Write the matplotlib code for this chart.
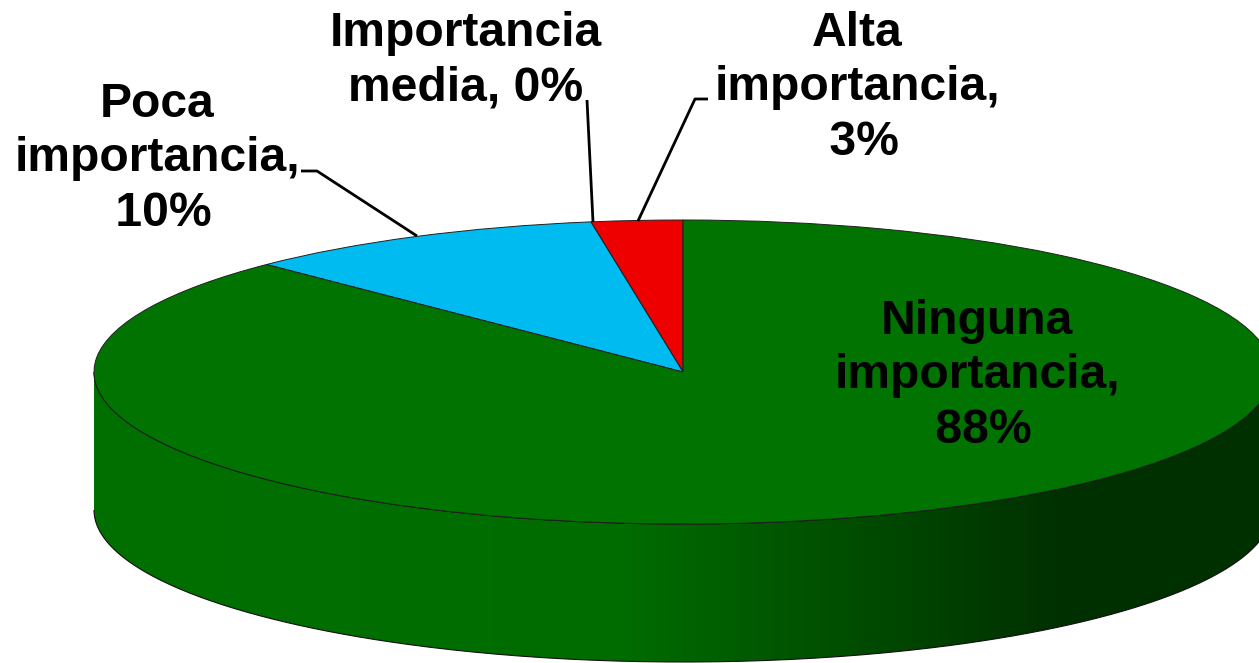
import numpy as np
import matplotlib
matplotlib.use('Agg')
import matplotlib.pyplot as plt
from matplotlib.colors import LinearSegmentedColormap
from matplotlib.patches import PathPatch
from matplotlib.path import Path

# counter clockwise from 12 o'clock
labels = ['Alta\nimportancia,\n 3%', 'Importancia\nmedia, 0%', 'Poca\nimportancia,\n 10%', 'Ninguna\nimportancia,\n 88%']
values = [2.5, 0.0, 10.0, 87.5]
colors = ['#ee0000', '#7f7f7f', '#00bbf0', '#007300']

W, H = 1259, 663
CX, CY = 683, 372
RX, RY = 589, 152
DEPTH = 138 / RY

plt.rcParams['font.family'] = ['Liberation Sans', 'DejaVu Sans']

fig = plt.figure(figsize=(W / 100, H / 100), dpi=100)
ax = fig.add_axes([0, 0, 1, 1])

def px(x, y):
    return (x - CX) / RX, (CY - y) / RY

# side wall, only the front half of the ellipse shows
t = np.linspace(np.pi, 2 * np.pi, 300)
xs = np.cos(t)
ys = np.sin(t)
wall = np.column_stack([np.r_[xs, xs[::-1]], np.r_[ys, ys[::-1] - DEPTH]])
wall_patch = PathPatch(Path(wall), fc='none', ec='#101010', lw=0.8, zorder=1)
ax.add_patch(wall_patch)
cmap = LinearSegmentedColormap.from_list('wall', [(0, '#007000'), (0.45, '#006c00'), (0.82, '#003000'), (1, '#003000')])
grad = np.linspace(0, 1, 512).reshape(1, -1)
im = ax.imshow(grad, cmap=cmap, extent=(-1, 1, -1 - DEPTH, 0), aspect='auto', zorder=0.5)
im.set_clip_path(wall_patch)

wedges, _ = ax.pie(values, colors=colors, startangle=90, counterclock=True, radius=1,
                   wedgeprops={'edgecolor': '#202020', 'linewidth': 0.7, 'zorder': 2})

ax.set_aspect('auto')
ax.set_xlim(-CX / RX, (W - CX) / RX)
ax.set_ylim((CY - H) / RY, CY / RY)
ax.axis('off')

# leader lines
leaders = [
    [(638, 221), (695, 99), (708, 99)],
    [(593, 222), (587, 100)],
    [(417, 236), (317, 171), (301, 171)],
]
for pts in leaders:
    q = [px(*p) for p in pts]
    ax.plot([a[0] for a in q], [a[1] for a in q], color='black', lw=2.0, zorder=3, solid_capstyle='butt')

label_pos = [(857, 88), (466, 61), (157, 159), (977, 376)]
for lab, pos in zip(labels, label_pos):
    x, y = px(*pos)
    ax.text(x, y, lab, ha='center', va='center', fontsize=34.6, fontweight='bold',
            linespacing=1.28, color='black', zorder=4)

fig.savefig('out.png', dpi=100)
